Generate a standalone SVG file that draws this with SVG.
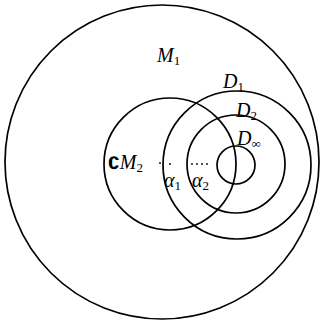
<svg xmlns="http://www.w3.org/2000/svg" width="322" height="323" viewBox="0 0 322 323">
<style>
.c{fill:none;stroke:#000;stroke-width:1.7}
.t{font-family:"Liberation Serif",serif;font-style:italic;font-size:20px;fill:#000}
.s{font-size:13px;font-style:normal}
.d{fill:#000}
</style>
<rect width="322" height="323" fill="#fff"/>
<g id="M1"><circle class="c" cx="162" cy="162" r="157"/><text class="t" x="157" y="62">M<tspan class="s" dy="3">1</tspan></text></g>
<g id="CM2"><circle class="c" cx="170" cy="164" r="66"/><text class="t" x="108" y="169"><tspan font-style="normal" font-family="DejaVu Sans,sans-serif" font-weight="bold" font-size="17">∁</tspan>M<tspan class="s" dy="3">2</tspan></text></g>
<g id="D1"><circle class="c" cx="237" cy="165" r="74"/><text class="t" x="223" y="88">D<tspan class="s" dy="3">1</tspan></text></g>
<g id="D2"><circle class="c" cx="236" cy="164" r="49"/><text class="t" x="236" y="117">D<tspan class="s" dy="3">2</tspan></text></g>
<g id="Dinf"><circle class="c" cx="236" cy="165" r="19"/><text class="t" x="237" y="145">D<tspan class="s" dy="3" font-size="17">∞</tspan></text></g>
<g id="points">
<circle class="d" cx="160" cy="163" r="0.9"/>
<circle class="d" cx="170" cy="164" r="0.9"/>
<circle class="d" cx="192" cy="164" r="0.9"/>
<circle class="d" cx="197" cy="164" r="0.9"/>
<circle class="d" cx="202" cy="164" r="0.9"/>
<circle class="d" cx="207" cy="164" r="0.9"/>
<text class="t" x="164" y="187">α<tspan class="s" dy="3">1</tspan></text>
<text class="t" x="192" y="187">α<tspan class="s" dy="3">2</tspan></text>
</g>
</svg>
